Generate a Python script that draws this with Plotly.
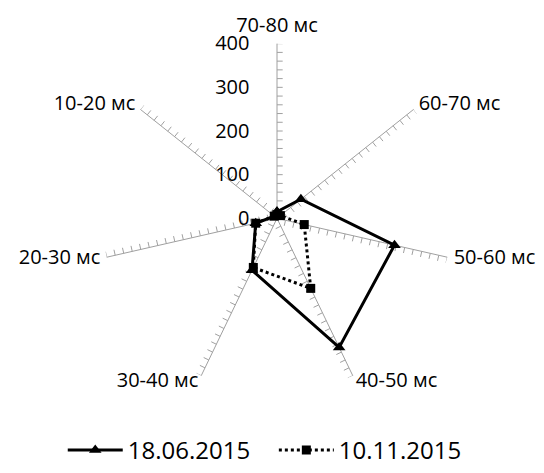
import math
import plotly.graph_objects as go

categories = ["70-80 мс", "60-70 мс", "50-60 мс", "40-50 мс", "30-40 мс", "20-30 мс", "10-20 мс"]
s1_name = "18.06.2015"
s1_values = [15, 70, 276, 328, 132, 50, 8]
s2_name = "10.11.2015"
s2_values = [8, 10, 64, 178, 125, 50, 8]
radial_tickvals = [0, 100, 200, 300, 400]
minor_step = 20
r_max = 400

n = len(categories)
angles = [i * 360.0 / n for i in range(n)]

W, H = 544, 473
# polar centre and radius in pixels (layout only)
cx_px, cy_px, rad_px = 277, 225, 180
dom_x = [(cx_px - rad_px) / W, (cx_px + rad_px) / W]
dom_y = [1 - (cy_px + rad_px) / H, 1 - (cy_px - rad_px) / H]

# minor tick marks on each spoke (clockwise side), in data units
tick_len = 13
tr, tt = [], []
for a in angles:
    for r in range(minor_step, r_max + 1, minor_step):
        tr += [r, math.hypot(r, tick_len), None]
        tt += [a, a + math.degrees(math.atan2(tick_len, r)), None]

# category labels: a second, invisible polar with the same centre and scale
label_pad = 15
r2_max = r_max * 1.1
label_pos = []
for a in angles:
    s = math.sin(math.radians(a))
    if s > 0.3:
        label_pos.append("middle right")
    elif s < -0.3:
        label_pos.append("middle left")
    else:
        label_pos.append("top center")
rad2_px = rad_px * r2_max / r_max
dom2_x = [(cx_px - rad2_px) / W, (cx_px + rad2_px) / W]
dom2_y = [1 - (cy_px + rad2_px) / H, 1 - (cy_px - rad2_px) / H]

fig = go.Figure()
fig.add_trace(go.Scatterpolar(r=tr, theta=tt, mode="lines",
                              line=dict(color="#A0A0A0", width=1),
                              showlegend=False, hoverinfo="skip"))
fig.add_trace(go.Scatterpolar(
    r=s1_values + s1_values[:1], theta=angles + angles[:1],
    name=s1_name + "\u00a0\u00a0\u00a0",
    mode="lines+markers", line=dict(color="black", width=3),
    marker=dict(symbol="triangle-up", size=11, color="black")))
fig.add_trace(go.Scatterpolar(
    r=s2_values + s2_values[:1], theta=angles + angles[:1], name=s2_name,
    mode="lines+markers", line=dict(color="black", width=3, dash="dot"),
    marker=dict(symbol="square", size=9, color="black")))

font_family = "Open Sans"
fig.add_trace(go.Scatterpolar(
    r=[r_max + label_pad] * n, theta=angles, text=categories, mode="text",
    textposition=label_pos, textfont=dict(size=20, family=font_family, color="black"),
    cliponaxis=False, showlegend=False, hoverinfo="skip", subplot="polar2"))

hidden_radial = dict(range=[0, r2_max], visible=False, showgrid=False, showline=False,
                     showticklabels=False, ticks="")
hidden_angular = dict(type="linear", thetaunit="degrees", rotation=90, direction="clockwise",
                      visible=False, showgrid=False, showline=False,
                      showticklabels=False, ticks="")

fig.update_layout(
    width=W, height=H,
    margin=dict(l=0, r=0, t=0, b=0),
    paper_bgcolor="white",
    font=dict(family=font_family, size=20, color="black"),
    polar=dict(
        domain=dict(x=dom_x, y=dom_y),
        bgcolor="white",
        radialaxis=dict(range=[0, r_max], angle=90, tickangle=90,
                        tickmode="array", tickvals=radial_tickvals,
                        side="counterclockwise", showgrid=False, showline=False,
                        ticks="outside", ticklen=20, tickcolor="rgba(0,0,0,0)",
                        tickfont=dict(size=20, family=font_family)),
        angularaxis=dict(type="linear", thetaunit="degrees", rotation=90,
                         direction="clockwise", tickmode="array",
                         tickvals=angles, showticklabels=False,
                         showgrid=True, gridcolor="#A0A0A0", gridwidth=1,
                         showline=False, ticks=""),
    ),
    polar2=dict(domain=dict(x=dom2_x, y=dom2_y), bgcolor="rgba(0,0,0,0)",
                radialaxis=hidden_radial, angularaxis=hidden_angular),
    legend=dict(orientation="h", x=0.858, xanchor="right", y=0.018, yanchor="middle",
                itemwidth=55, font=dict(size=24, family=font_family)),
)

fig.write_html("out.html", config={"displayModeBar": False},
               post_script="document.body.style.margin='0';")
